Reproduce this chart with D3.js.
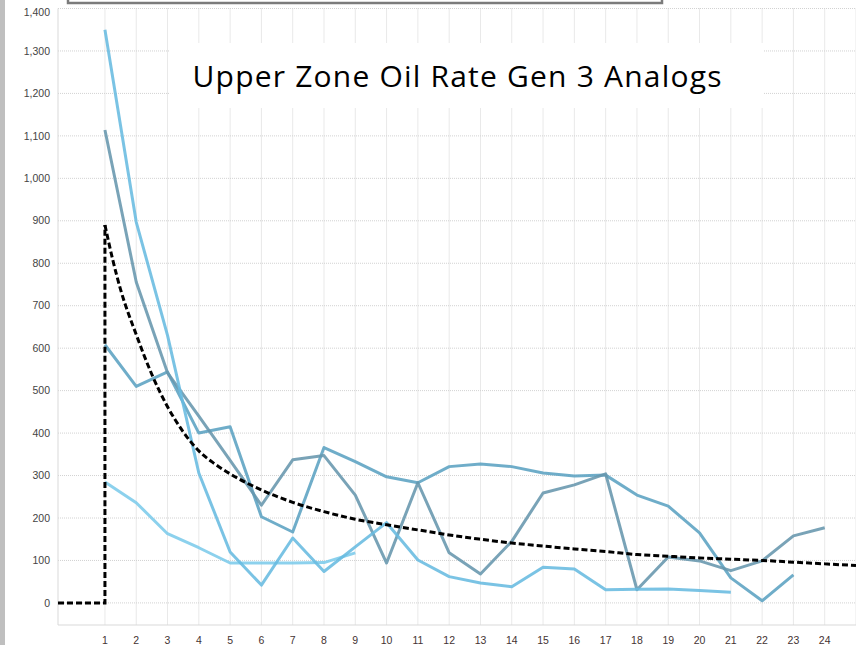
<!DOCTYPE html>
<html>
<head>
<meta charset="utf-8">
<script src="https://cdn.jsdelivr.net/npm/d3@7"></script>
<style>
  body { margin: 0; background: #fff; }
  svg { display: block; }
</style>
</head>
<body>
<div id="chart"></div>
<script>
// Analog wells, monthly oil rate (month 1 onwards)
var analogA = [1350, 897, 630, 306, 120, 42, 153, 74, 132, 189, 101, 62, 47, 38, 84, 80, 31, 32, 33, 29, 25];
var analogB = [1114, 756, 542, 440, 336, 230, 337, 347, 254, 94, 283, 118, 68, 145, 259, 278, 304, 31, 108, 99, 76, 99, 158, 177];
var analogC = [608, 510, 544, 400, 415, 203, 167, 366, 333, 297, 283, 321, 327, 321, 306, 299, 301, 254, 228, 165, 59, 5, 66];
var analogD = [285, 236, 163, 130, 94, 94, 94, 95, 118];

// type curve: [month, rate]
var typeMonths = [-0.5, 1, 1, 1.25, 1.5, 2, 2.5, 3, 3.5, 4, 4.5, 5, 6, 7, 8, 9, 10, 11, 12, 13, 14, 15, 16, 17, 18, 19, 20, 21, 22, 23, 24, 25];
var typeRates = [0, 0, 890, 808, 738, 632, 538, 462, 403, 358, 328, 304, 266, 237, 215, 197, 184, 172, 160, 150, 141, 134, 127, 121, 114, 110, 106, 103, 100, 96, 92, 88];

var yTicks = [0, 100, 200, 300, 400, 500, 600, 700, 800, 900, 1000, 1100, 1200, 1300, 1400];
var xTicks = [1, 2, 3, 4, 5, 6, 7, 8, 9, 10, 11, 12, 13, 14, 15, 16, 17, 18, 19, 20, 21, 22, 23, 24];

var titleText = 'Upper Zone Oil Rate Gen 3 Analogs';

var width = 856, height = 645;

var svg = d3.select('#chart')
  .append('svg')
  .attr('width', width)
  .attr('height', height);

var x = d3.scaleLinear().domain([-0.5, 25]).range([58, 856]);
var y = d3.scaleLinear().domain([-52, 1400]).range([625, 8.5]);

// grid
svg.append('g')
  .selectAll('line')
  .data(yTicks)
  .enter()
  .append('line')
  .attr('x1', x(-0.5))
  .attr('x2', width)
  .attr('y1', function (d) { return y(d); })
  .attr('y2', function (d) { return y(d); })
  .attr('stroke', '#d2d2d2')
  .attr('stroke-width', 1)
  .attr('stroke-dasharray', '1,1');

svg.append('g')
  .selectAll('line')
  .data(xTicks.concat([25]))
  .enter()
  .append('line')
  .attr('x1', function (d) { return x(d); })
  .attr('x2', function (d) { return x(d); })
  .attr('y1', y(1400))
  .attr('y2', y(-52))
  .attr('stroke', '#d2d2d2')
  .attr('stroke-width', 1)
  .attr('stroke-dasharray', '1,1');

// axis lines
svg.append('line')
  .attr('x1', x(-0.5)).attr('x2', x(-0.5))
  .attr('y1', y(1400)).attr('y2', y(-52))
  .attr('stroke', '#d9d9d9');

svg.append('line')
  .attr('x1', x(-0.5)).attr('x2', width)
  .attr('y1', y(-52)).attr('y2', y(-52))
  .attr('stroke', '#d9d9d9');

// tick labels
var fmt = d3.format(',');

svg.append('g')
  .selectAll('text')
  .data(yTicks)
  .enter()
  .append('text')
  .attr('x', 50)
  .attr('y', function (d) { return d === 1400 ? y(d) + 4 : y(d); })
  .attr('dy', '0.35em')
  .attr('text-anchor', 'end')
  .attr('font-family', 'Liberation Sans, Arial')
  .attr('font-size', '10.5px')
  .attr('fill', '#444')
  .text(function (d) { return fmt(d); });

svg.append('g')
  .selectAll('text')
  .data(xTicks)
  .enter()
  .append('text')
  .attr('x', function (d) { return x(d); })
  .attr('y', 640)
  .attr('dy', '0.35em')
  .attr('text-anchor', 'middle')
  .attr('font-family', 'Liberation Sans, Arial')
  .attr('font-size', '10.5px')
  .attr('fill', '#433')
  .text(function (d) { return d; });

// title sits on a white box over the grid
svg.append('rect')
  .attr('x', 170)
  .attr('y', 43)
  .attr('width', 594)
  .attr('height', 65)
  .attr('fill', '#fff');

svg.append('text')
  .attr('x', 457)
  .attr('y', 87)
  .attr('text-anchor', 'middle')
  .attr('font-family', 'Open Sans, Noto Sans, sans-serif')
  .attr('font-size', '30px')
  .attr('textLength', 529)
  .attr('fill', '#000')
  .text(titleText);

// analog lines
var series = [
  { values: analogC, color: '#5ba2c1' },
  { values: analogB, color: '#6796ad' },
  { values: analogD, color: '#7ccbeb' },
  { values: analogA, color: '#68bbe0' }
];

var line = d3.line()
  .x(function (d, i) { return x(i + 1); })
  .y(function (d) { return y(d); });

svg.append('g')
  .selectAll('path')
  .data(series)
  .enter()
  .append('path')
  .attr('d', function (s) { return line(s.values); })
  .attr('fill', 'none')
  .attr('stroke', function (s) { return s.color; })
  .attr('stroke-width', 3)
  .attr('stroke-opacity', 0.88)
  .attr('stroke-linejoin', 'round');

// type curve
var typeLine = d3.line()
  .curve(d3.curveMonotoneX)
  .x(function (d) { return x(d[0]); })
  .y(function (d) { return y(d[1]); });

var typePts = typeMonths.map(function (m, i) { return [m, typeRates[i]]; });

svg.append('path')
  .attr('d', typeLine(typePts.slice(0, 3)))
  .attr('fill', 'none')
  .attr('stroke', '#000')
  .attr('stroke-width', 3)
  .attr('stroke-dasharray', '6,3');

svg.append('path')
  .attr('d', typeLine(typePts.slice(2)))
  .attr('fill', 'none')
  .attr('stroke', '#000')
  .attr('stroke-width', 3)
  .attr('stroke-dasharray', '6,3');

// bits of the slide around the chart
svg.append('rect')
  .attr('x', 68)
  .attr('y', -10)
  .attr('width', 594)
  .attr('height', 13)
  .attr('fill', '#fff')
  .attr('stroke', '#7b7b7b')
  .attr('stroke-width', 2.5);

svg.append('rect')
  .attr('x', 0)
  .attr('y', 0)
  .attr('width', 5)
  .attr('height', height)
  .attr('fill', '#bfbfbf');
</script>
</body>
</html>
